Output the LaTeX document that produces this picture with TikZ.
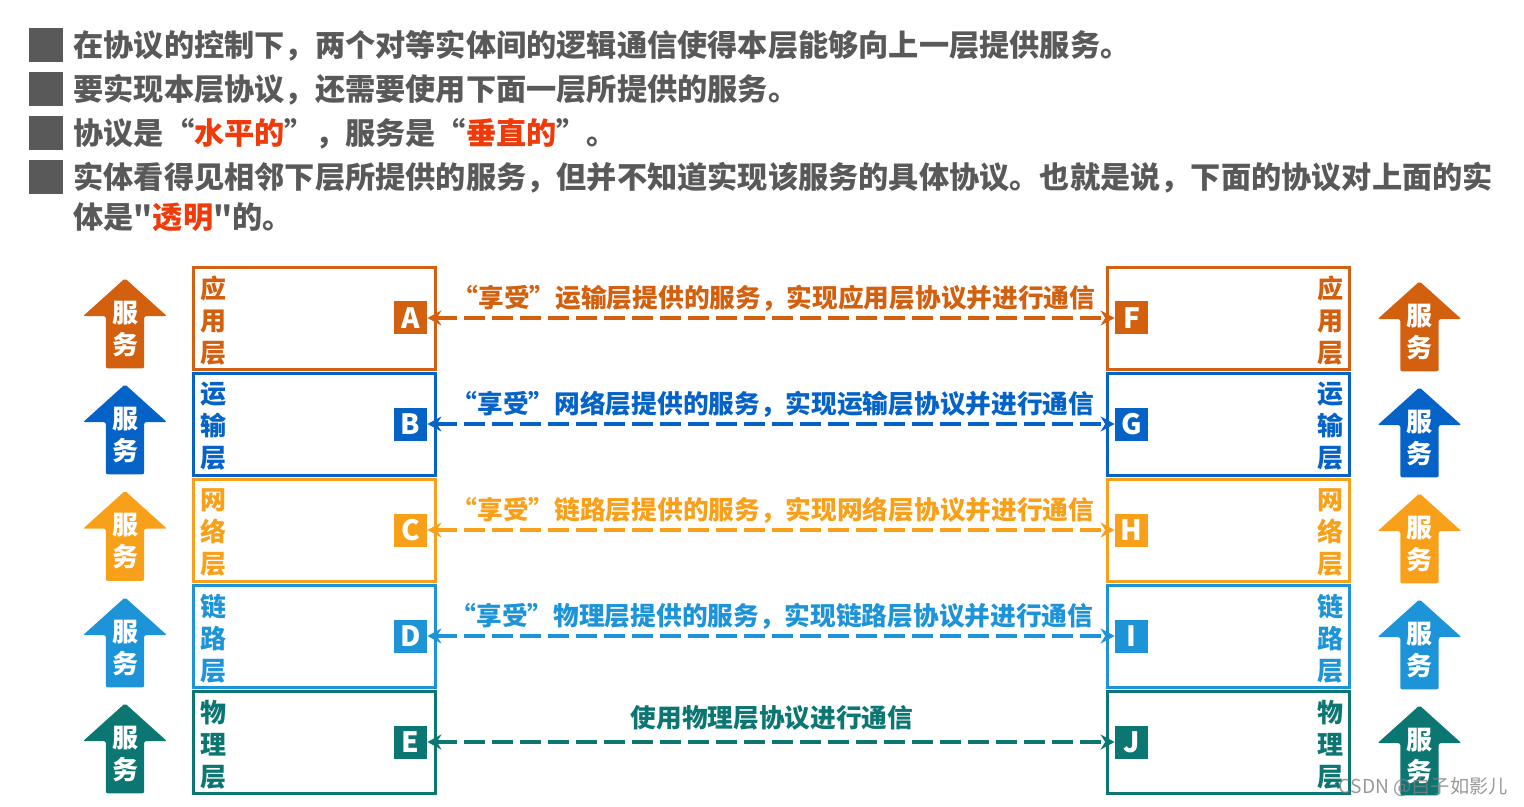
\documentclass[tikz,border=0pt]{standalone}
\usepackage{fontspec}
\setmainfont{Noto Sans CJK SC}[Ligatures=TeXOff]
\usetikzlibrary{arrows.meta,shapes.arrows}
\definecolor{appc}{HTML}{D2600F}
\definecolor{tranc}{HTML}{0563C8}
\definecolor{netc}{HTML}{F9A01B}
\definecolor{linkc}{HTML}{1E94D8}
\definecolor{phyc}{HTML}{0B7672}
\definecolor{greyc}{HTML}{595959}
\definecolor{redc}{HTML}{F03A0A}
\newcommand{\redword}[1]{\textcolor{redc}{#1}}

\begin{document}
\begin{tikzpicture}[
  x=0.5pt, y=-0.5pt,
  font=\bfseries,
  bullet/.style={rectangle, fill=greyc, draw=none, minimum size=17pt, inner sep=0pt},
  para/.style={anchor=west, inner sep=0pt, text=greyc, font=\fontsize{15.1pt}{15pt}\selectfont\bfseries},
  layerbox/.style={rectangle, draw=#1, line width=1.5pt, minimum width=121pt, minimum height=51pt, inner sep=0pt},
  badge/.style={rectangle, fill=#1, text=white, minimum size=16.5pt, inner sep=0pt,
                font=\fontsize{14pt}{14pt}\selectfont\bfseries},
  layername/.style={align=center, inner sep=0pt, text=#1, font=\fontsize{13pt}{16pt}\selectfont\bfseries},
  svc/.style={single arrow, fill=#1, text=white, shape border rotate=90, rounded corners=1pt,
              minimum height=45pt, minimum width=42pt, single arrow head extend=8pt,
              single arrow tip angle=96, inner sep=0pt, align=center, text depth=4.5pt,
              font=\fontsize{13pt}{16pt}\selectfont\bfseries},
  note/.style={inner sep=0pt, text=#1, font=\fontsize{12.85pt}{12.85pt}\selectfont\bfseries},
  link/.style={draw=#1, line width=2pt, dash pattern=on 10.5pt off 3.5pt,
               {Stealth[length=7pt,width=7.5pt]}-{Stealth[length=7pt,width=7.5pt]}}
]
\useasboundingbox (0,0) rectangle (1524,807);
% text block
\node[bullet] (bulA) at (46,45)  {};
\node[bullet] (bulB) at (46,89)  {};
\node[bullet] (bulC) at (46,133) {};
\node[bullet] (bulD) at (46,177) {};
\node[para] (lineA) at (73,46)  {在协议的控制下，两个对等实体间的逻辑通信使得本层能够向上一层提供服务。};
\node[para] (lineB) at (73,90)  {要实现本层协议，还需要使用下面一层所提供的服务。};
\node[para] (lineC) at (73,134) {协议是“\redword{水平的}”，服务是“\redword{垂直的}”。};
\node[para] (lineD) at (73,178) {实体看得见相邻下层所提供的服务，但并不知道实现该服务的具体协议。也就是说，下面的协议对上面的实};
\node[para] (lineE) at (73,217) {体是"\redword{透明}"的。};
% service arrows, left
\node[svc=appc]  (svcA) at (125,332) {服\\务};
\node[svc=tranc] (svcB) at (125,438) {服\\务};
\node[svc=netc]  (svcC) at (125,544.5) {服\\务};
\node[svc=linkc] (svcD) at (125,651) {服\\务};
\node[svc=phyc]  (svcE) at (125,757) {服\\务};
% service arrows, right
\node[svc=appc]  (svcF) at (1419.5,335) {服\\务};
\node[svc=tranc] (svcG) at (1419.5,441) {服\\务};
\node[svc=netc]  (svcH) at (1419.5,547) {服\\务};
\node[svc=linkc] (svcI) at (1419.5,653) {服\\务};
\node[svc=phyc]  (svcJ) at (1419.5,759) {服\\务};
% layer boxes, left
\node[layerbox=appc]  (boxA) at (314,318.5) {};
\node[layerbox=tranc] (boxB) at (314,424.5) {};
\node[layerbox=netc]  (boxC) at (314,530.5) {};
\node[layerbox=linkc] (boxD) at (314,636.5) {};
\node[layerbox=phyc]  (boxE) at (314,742.5) {};
% layer boxes, right
\node[layerbox=appc]  (boxF) at (1228,318.5) {};
\node[layerbox=tranc] (boxG) at (1228,424.5) {};
\node[layerbox=netc]  (boxH) at (1228,530.5) {};
\node[layerbox=linkc] (boxI) at (1228,636.5) {};
\node[layerbox=phyc]  (boxJ) at (1228,742.5) {};
% layer names
\node[layername=appc]  (nameA) at (213,320.5) {应\\用\\层};
\node[layername=tranc] (nameB) at (213,426.5) {运\\输\\层};
\node[layername=netc]  (nameC) at (213,532.5) {网\\络\\层};
\node[layername=linkc] (nameD) at (213,638.5) {链\\路\\层};
\node[layername=phyc]  (nameE) at (213,744.5) {物\\理\\层};
\node[layername=appc]  (nameF) at (1330,320.5) {应\\用\\层};
\node[layername=tranc] (nameG) at (1330,426.5) {运\\输\\层};
\node[layername=netc]  (nameH) at (1330,532.5) {网\\络\\层};
\node[layername=linkc] (nameI) at (1330,638.5) {链\\路\\层};
\node[layername=phyc]  (nameJ) at (1330,744.5) {物\\理\\层};
% letter badges
\node[badge=appc]  (A) at (410.5,318) {A};
\node[badge=tranc] (B) at (410.5,424) {B};
\node[badge=netc]  (C) at (410.5,530) {C};
\node[badge=linkc] (D) at (410.5,636) {D};
\node[badge=phyc]  (E) at (410.5,742) {E};
\node[badge=appc]  (F) at (1131.5,318) {F};
\node[badge=tranc] (G) at (1131.5,424) {G};
\node[badge=netc]  (H) at (1131.5,530) {H};
\node[badge=linkc] (I) at (1131.5,636) {I};
\node[badge=phyc]  (J) at (1131.5,742) {J};
% peer links
\draw[link=appc]  (A) -- (F);
\draw[link=tranc] (B) -- (G);
\draw[link=netc]  (C) -- (H);
\draw[link=linkc] (D) -- (I);
\draw[link=phyc]  (E) -- (J);
% link labels
\node[note=appc]  (noteA) at (774,298) {“享受”运输层提供的服务，实现应用层协议并进行通信};
\node[note=tranc] (noteB) at (773,404) {“享受”网络层提供的服务，实现运输层协议并进行通信};
\node[note=netc]  (noteC) at (773,510) {“享受”链路层提供的服务，实现网络层协议并进行通信};
\node[note=linkc] (noteD) at (772,616) {“享受”物理层提供的服务，实现链路层协议并进行通信};
\node[note=phyc]  (noteE) at (772,718) {使用物理层协议进行通信};
% watermark
\node[inner sep=0pt, anchor=east, text=black!50, opacity=0.8, font=\fontsize{9.6pt}{9.6pt}\selectfont\mdseries] (mark) at (1508,787) {CSDN @白子如影儿};
\end{tikzpicture}
\end{document}
